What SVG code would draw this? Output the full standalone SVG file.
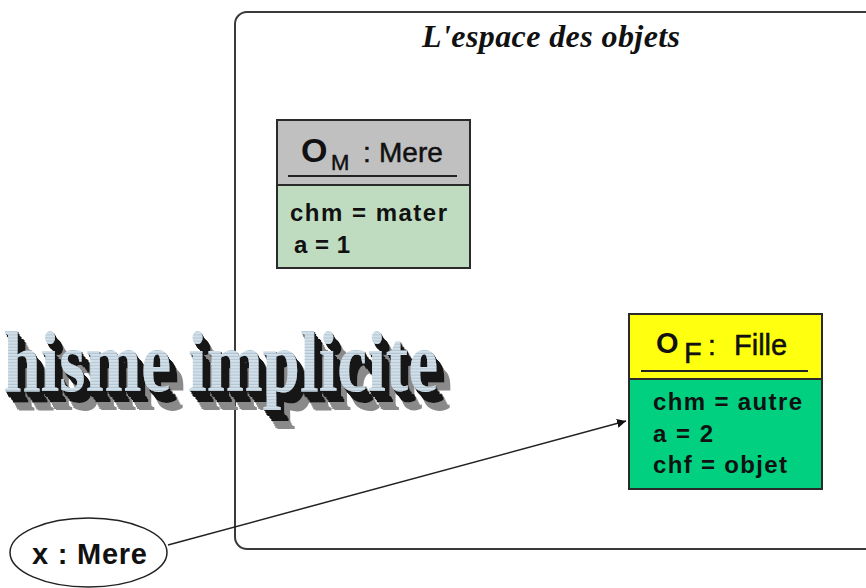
<svg xmlns="http://www.w3.org/2000/svg" width="866" height="588" viewBox="0 0 866 588">
<style>
.frame{fill:none;stroke:#3a3a3a;stroke-width:2}
.box{stroke:#2a2a2a;stroke-width:2}
.sans{font-family:"Liberation Sans",Arial,sans-serif;fill:#111}
.hd{stroke:#111;stroke-width:0.5}
.attr{font-family:"Liberation Sans",Arial,sans-serif;font-weight:bold;font-size:24px;fill:#111}
.ul{stroke:#222;stroke-width:2}
.conn{fill:none;stroke:#222;stroke-width:1.5}
</style>
<defs>
<pattern id="stripes" patternUnits="userSpaceOnUse" width="20" height="3">
<rect width="20" height="3" fill="#d2e0e9"/>
<rect y="2" width="20" height="1" fill="#b2c4d1"/>
</pattern>
<filter id="extrude" x="-10%" y="-20%" width="130%" height="170%">
<feOffset in="SourceAlpha" dx="11" dy="12" result="f1"/>
<feOffset in="SourceAlpha" dx="12.5" dy="14" result="f2"/>
<feOffset in="SourceAlpha" dx="14" dy="15.5" result="f3"/>
<feOffset in="SourceAlpha" dx="15.5" dy="17" result="f4"/>
<feOffset in="SourceAlpha" dx="17" dy="18.5" result="f5"/>
<feMerge result="far"><feMergeNode in="f1"/><feMergeNode in="f2"/><feMergeNode in="f3"/><feMergeNode in="f4"/><feMergeNode in="f5"/></feMerge>
<feFlood flood-color="#8a8a8a"/>
<feComposite in2="far" operator="in" result="farc"/>
<feOffset in="SourceAlpha" dx="1" dy="1" result="n1"/>
<feOffset in="SourceAlpha" dx="2.5" dy="2.5" result="n2"/>
<feOffset in="SourceAlpha" dx="4" dy="4.5" result="n3"/>
<feOffset in="SourceAlpha" dx="5.5" dy="6" result="n4"/>
<feOffset in="SourceAlpha" dx="7" dy="7.5" result="n5"/>
<feOffset in="SourceAlpha" dx="8.5" dy="9" result="n6"/>
<feOffset in="SourceAlpha" dx="10" dy="10.5" result="n7"/>
<feMerge result="near"><feMergeNode in="n1"/><feMergeNode in="n2"/><feMergeNode in="n3"/><feMergeNode in="n4"/><feMergeNode in="n5"/><feMergeNode in="n6"/><feMergeNode in="n7"/></feMerge>
<feFlood flood-color="#121212"/>
<feComposite in2="near" operator="in" result="nearc"/>
<feMerge><feMergeNode in="farc"/><feMergeNode in="nearc"/><feMergeNode in="SourceGraphic"/></feMerge>
</filter>
<marker id="arrow" viewBox="0 0 10 10" refX="10" refY="5" markerWidth="9" markerHeight="9" markerUnits="userSpaceOnUse" orient="auto">
<path d="M0,0 L10,5 L0,10 z" fill="#111"/>
</marker>
</defs>

<g id="space">
<rect class="frame" x="235" y="12" width="700" height="537" rx="12" ry="12"/>
<text x="551" y="47" text-anchor="middle" font-family="'Liberation Serif','Times New Roman',serif" font-weight="bold" font-style="italic" font-size="32" textLength="258" lengthAdjust="spacing" fill="#111">L'espace des objets</text>
</g>

<g id="om">
<rect class="box" x="277" y="120" width="193" height="65" fill="#c0c0c0"/>
<rect class="box" x="277" y="185" width="193" height="83" fill="#c0dcc0"/>
<line class="ul" x1="288" y1="176" x2="457" y2="176"/>
<text class="sans"><tspan x="301" y="162" font-size="34" font-weight="bold">O</tspan><tspan class="hd" x="331" y="170" font-size="22">M</tspan><tspan class="hd" x="363" y="162" font-size="28">:</tspan><tspan class="hd" x="379" y="162" font-size="28">Mere</tspan></text>
<text class="attr" x="290" y="221" textLength="157" lengthAdjust="spacing">chm = mater</text>
<text class="attr" x="294" y="253" textLength="56" lengthAdjust="spacing">a = 1</text>
</g>

<g id="of">
<rect class="box" x="629" y="314" width="193" height="65" fill="#ffff10"/>
<rect class="box" x="629" y="379" width="193" height="110" fill="#00d080"/>
<line class="ul" x1="641" y1="371" x2="808" y2="371"/>
<text class="sans"><tspan x="656" y="353" font-size="29" font-weight="bold">O</tspan><tspan class="hd" x="684" y="363" font-size="29">F</tspan><tspan class="hd" x="708" y="355" font-size="28">:</tspan><tspan class="hd" x="734" y="355" font-size="29">Fille</tspan></text>
<text class="attr" x="653" y="410" textLength="149" lengthAdjust="spacing">chm = autre</text>
<text class="attr" x="653" y="442" textLength="60" lengthAdjust="spacing">a = 2</text>
<text class="attr" x="653" y="473" textLength="134" lengthAdjust="spacing">chf = objet</text>
</g>

<g id="x">
<ellipse cx="88.5" cy="552.5" rx="78.5" ry="34.5" fill="#fff" stroke="#222" stroke-width="1.5"/>
<text class="sans" x="32" y="564" font-size="29" font-weight="bold" textLength="115" lengthAdjust="spacing">x : Mere</text>
</g>

<g id="connectors">
<line class="conn" x1="168" y1="545" x2="626" y2="421" marker-end="url(#arrow)"/>
</g>

<g id="wordart">
<text transform="translate(438,391) scale(0.8,1.03)" text-anchor="end" font-family="'Liberation Serif','Times New Roman',serif" font-weight="bold" font-size="84" fill="url(#stripes)" filter="url(#extrude)">hisme implicite</text>
</g>
</svg>
